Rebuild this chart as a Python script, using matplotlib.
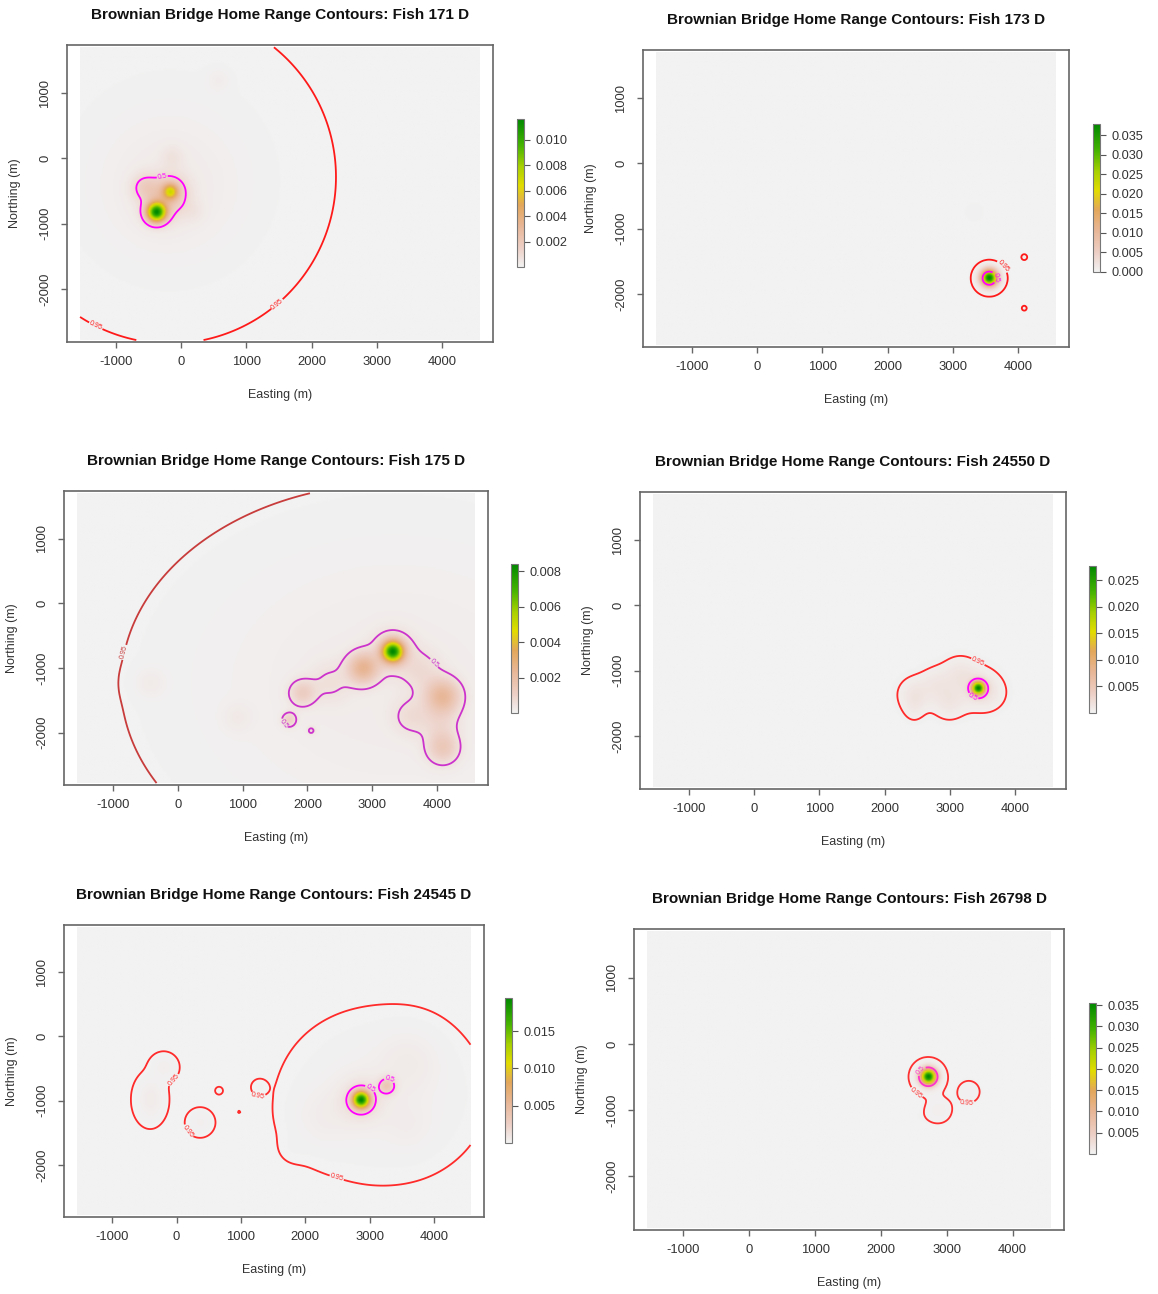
import numpy as np
import matplotlib
matplotlib.use('Agg')
import matplotlib.pyplot as plt
from matplotlib.colors import LinearSegmentedColormap

plt.rcParams['font.family'] = ['Liberation Sans', 'DejaVu Sans']
plt.rcParams['axes.unicode_minus'] = False

"""
Brownian bridge utilisation distributions for six fish, drawn as a
density raster with the 50% and 95% home range contours on top
"""

fish_ids = ['171', '173', '175', '24550', '24545', '26798']

# hot spots of each UD surface: easting, northing (m), peak height, spread x / y (m)
hot_x = [
    [-385, -170, -170, -300, -560, -144, 183, 566, -200, -170],
    [3557, 3557, 4094, 4094, 3327],
    [3313, 3313, 2857, 4084, 4084, 1916, 3597, 2350, 3750, 4050, 1716, 2056, -425, 916, 3340],
    [3434, 3434, 2468, 2805, 3152, 2990, 3620, 2450],
    [2869, 2869, 3273, 3600, 2300, 3600, 3200, 1800, -200, -410, 660, 365, 1280, 972],
    [2718, 2718, 2885, 3334, 2500],
]
hot_y = [
    [-826, -510, -510, -700, -440, 25, -817, 1200, -450, -280],
    [-1757, -1757, -1435, -2216, -746],
    [-749, -749, -1005, -1444, -2242, -1392, -1753, -1230, -1050, -1850, -1804, -1970, -1233, -1774, -1250],
    [-1271, -1271, -1360, -1200, -1041, -1480, -1350, -1560],
    [-989, -989, -771, -400, -1250, -1400, -920, -1750, -480, -980, -844, -1339, -790, -1175],
    [-496, -496, -1000, -723, -1150],
]
hot_amp = [
    [0.0104, 0.0045, 0.0016, 0.0010, 0.0012, 0.0004, 0.0003, 0.0002, 0.00022, 0.00012],
    [0.0350, 0.0030, 0.0008, 0.00063, 0.0003],
    [0.0074, 0.0008, 0.0022, 0.0020, 0.0012, 0.0010, 0.0005, 0.0004, 0.0005, 0.0005,
     0.0009, 0.00046, 0.0002, 0.0002, 0.0002],
    [0.0260, 0.0015, 0.0012, 0.0010, 0.0011, 0.0012, 0.0006, 0.0006],
    [0.0177, 0.0015, 0.0030, 0.0004, 0.0003, 0.0002, 0.0003, 0.00004, 0.0003,
     0.0005, 0.00007, 0.00025, 0.00008, 0.00004],
    [0.0345, 0.0012, 0.0005, 0.0004, 0.00012],
]
hot_sx = [
    [100, 80, 180, 220, 140, 120, 120, 120, 650, 1120],
    [80, 130, 35, 35, 120],
    [110, 220, 160, 180, 170, 140, 200, 220, 220, 200, 80, 50, 150, 150, 2105],
    [70, 200, 170, 170, 170, 170, 170, 110],
    [90, 220, 90, 300, 300, 250, 790, 150, 120, 130, 50, 120, 80, 25],
    [80, 150, 140, 140, 200],
]
hot_sy = [
    [100, 80, 180, 220, 140, 120, 120, 120, 650, 1120],
    [80, 130, 35, 35, 120],
    [110, 220, 160, 180, 170, 140, 200, 220, 220, 200, 80, 50, 150, 150, 1550],
    [70, 200, 170, 170, 170, 170, 170, 150],
    [90, 220, 90, 300, 300, 250, 676, 150, 120, 200, 50, 120, 80, 25],
    [80, 150, 140, 140, 200],
]

# UD heights of the 50% and 95% volume contours
level_50 = [0.0012, 0.018, 0.0005, 0.004, 0.0019, 0.008]
level_95 = [9.2e-6, 0.00035, 2.7e-5, 0.00035, 3.5e-5, 0.0002]

cbar_ticks = [
    [0.002, 0.004, 0.006, 0.008, 0.010],
    [0.000, 0.005, 0.010, 0.015, 0.020, 0.025, 0.030, 0.035],
    [0.002, 0.004, 0.006, 0.008],
    [0.005, 0.010, 0.015, 0.020, 0.025],
    [0.005, 0.010, 0.015],
    [0.005, 0.010, 0.015, 0.020, 0.025, 0.030, 0.035],
]
x_ticks = [-1000, 0, 1000, 2000, 3000, 4000]
y_ticks = [-2000, -1000, 0, 1000]

# layout in pixels: plot box (left, top, right, bottom) and legend bar (left, top, bottom)
W, H = 1158, 1294
box_px = [(67, 45, 493, 342), (643, 50, 1069, 347), (64, 491, 488, 785),
          (640, 492, 1066, 789), (64, 925, 484, 1217), (634, 929, 1064, 1230)]
bar_px = [(517, 119, 267), (1093, 124, 272), (511, 564, 713),
          (1089, 566, 713), (505, 998, 1143), (1089, 1003, 1154)]
col95 = ['#ff1a1a', '#ff1a1a', '#c83c3c', '#ff2a2a', '#ff2a2a', '#ff3030']
col50 = ['#ff00ff', '#ff00ff', '#cc33cc', '#ff00ff', '#ff00ff', '#ff33cc']

ud_cmap = LinearSegmentedColormap.from_list('ud', [
    (0.0, '#f2f2f2'), (0.13, '#edcfc5'), (0.28, '#e8b696'), (0.42, '#e3a75a'),
    (0.55, '#e2dc00'), (0.68, '#a8d000'), (0.82, '#46b400'), (1.0, '#008800')])

xs = np.arange(-1550, 4581, 20.0)
ys = np.arange(-2780, 1701, 20.0)
gx, gy = np.meshgrid(xs, ys)


def ud_surface(i):
    z = np.zeros_like(gx)
    for x0, y0, a, sx, sy in zip(hot_x[i], hot_y[i], hot_amp[i], hot_sx[i], hot_sy[i]):
        z += a * np.exp(-((gx - x0) ** 2 / (2 * sx ** 2) + (gy - y0) ** 2 / (2 * sy ** 2)))
    return z


fig = plt.figure(figsize=(W / 100, H / 100), dpi=100)

for i, fid in enumerate(fish_ids):
    l, t, r, b = box_px[i]
    ax = fig.add_axes([l / W, 1 - b / H, (r - l) / W, (b - t) / H])
    z = ud_surface(i)
    im = ax.imshow(z, extent=(xs[0], xs[-1], ys[0], ys[-1]), origin='lower', cmap=ud_cmap,
                   vmin=0, vmax=z.max(), interpolation='bilinear', aspect='auto')
    c95 = ax.contour(gx, gy, z, levels=[level_95[i]], colors=[col95[i]], linewidths=1.3)
    c50 = ax.contour(gx, gy, z, levels=[level_50[i]], colors=[col50[i]], linewidths=1.3)
    ax.clabel(c95, fmt={level_95[i]: '0.95'}, fontsize=5, inline=True, inline_spacing=1)
    ax.clabel(c50, fmt={level_50[i]: '0.5'}, fontsize=5, inline=True, inline_spacing=1)
    ax.set_xlim(-1750, 4780)
    ax.set_ylim(-2810, 1735)
    ax.set_xticks(x_ticks)
    ax.set_yticks(y_ticks)
    ax.tick_params(axis='both', length=4.3, width=1, color='#666666', labelsize=9.4,
                   labelcolor='#333333')
    ax.tick_params(axis='x', pad=6)
    ax.tick_params(axis='y', pad=7, labelrotation=90)
    for lab in ax.get_yticklabels():
        lab.set_va('center')
    for sp in ax.spines.values():
        sp.set_color('#666666')
        sp.set_linewidth(1.2)
    ax.set_xlabel('Easting (m)', fontsize=9, color='#333333')
    ax.set_ylabel('Northing (m)', fontsize=9, color='#333333')
    ax.xaxis.set_label_coords(0.5, -53 / (b - t))
    ax.xaxis.label.set_va('center')
    ax.yaxis.set_label_coords(-52 / (r - l), 0.5)
    ax.yaxis.label.set_va('center')
    ax.text(0.5, 1 + 30 / (b - t), f'Brownian Bridge Home Range Contours: Fish {fid} D',
            transform=ax.transAxes, ha='center', va='center', fontsize=11,
            fontweight='bold', color='#111111')

    cl, ct, cb = bar_px[i]
    cax = fig.add_axes([cl / W, 1 - cb / H, 7 / W, (cb - ct) / H])
    cbar = fig.colorbar(im, cax=cax, ticks=cbar_ticks[i])
    cbar.ax.set_yticklabels([f'{v:.3f}' for v in cbar_ticks[i]])
    cbar.outline.set_edgecolor('#777777')
    cbar.outline.set_linewidth(0.8)
    cbar.ax.tick_params(length=4, width=0.8, color='#555555', labelsize=9.2, pad=4,
                        labelcolor='#333333')

fig.savefig('out.png', dpi=100)
